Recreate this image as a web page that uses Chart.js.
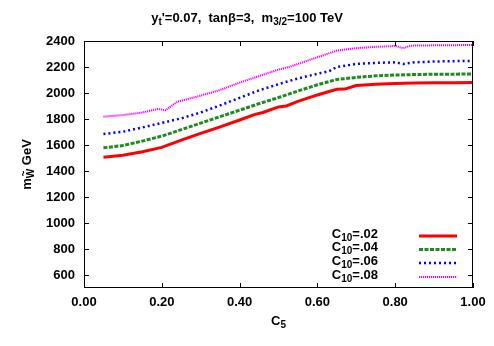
<!DOCTYPE html>
<html>
<head>
<meta charset="utf-8">
<script src="https://cdn.jsdelivr.net/npm/chart.js@4"></script>
<style>
  html, body { margin: 0; padding: 0; background: #fff; }
  #wrap { width: 494px; height: 346px; }
</style>
</head>
<body>
<div id="wrap"><canvas id="myChart" width="494" height="346"></canvas></div>
<script>
// C5 values and wino mass (GeV) for each C10
const c5_02 = [0.05, 0.10, 0.15, 0.20, 0.25, 0.30, 0.35, 0.40, 0.44, 0.46, 0.50, 0.52, 0.55, 0.60, 0.63, 0.65, 0.67, 0.70, 0.75, 0.80, 0.85, 0.90, 0.95, 1.00];
const m_02  = [1505, 1522, 1548, 1582, 1638, 1690, 1740, 1792, 1836, 1850, 1893, 1900, 1935, 1985, 2012, 2028, 2030, 2058, 2068, 2074, 2077, 2078, 2079, 2080];

const c5_04 = [0.05, 0.10, 0.15, 0.20, 0.25, 0.30, 0.35, 0.40, 0.45, 0.50, 0.55, 0.60, 0.65, 0.70, 0.75, 0.80, 0.85, 0.90, 0.95, 1.00];
const m_04  = [1578, 1596, 1630, 1668, 1718, 1768, 1818, 1868, 1918, 1965, 2015, 2063, 2104, 2120, 2132, 2138, 2142, 2144, 2145, 2146];

const c5_06 = [0.05, 0.10, 0.15, 0.20, 0.25, 0.30, 0.35, 0.40, 0.45, 0.50, 0.55, 0.60, 0.63, 0.65, 0.70, 0.75, 0.80, 0.82, 0.85, 0.90, 0.95, 1.00];
const m_06  = [1685, 1702, 1735, 1770, 1805, 1850, 1905, 1963, 2020, 2068, 2112, 2148, 2168, 2200, 2224, 2232, 2236, 2223, 2236, 2242, 2245, 2246];

const c5_08 = [0.05, 0.10, 0.15, 0.19, 0.21, 0.24, 0.30, 0.35, 0.40, 0.45, 0.50, 0.53, 0.60, 0.65, 0.70, 0.75, 0.80, 0.82, 0.84, 0.90, 0.95, 1.00];
const m_08  = [1818, 1830, 1850, 1877, 1868, 1933, 1980, 2023, 2080, 2130, 2180, 2203, 2275, 2326, 2345, 2355, 2362, 2344, 2364, 2367, 2368, 2369];

const seriesNames = ['.02', '.04', '.06', '.08'];
const xTicks = [0, 0.2, 0.4, 0.6, 0.8, 1.0];
const yTicks = [600, 800, 1000, 1200, 1400, 1600, 1800, 2000, 2200, 2400];

const colors = ['#ff0000', '#1f8a1f', '#0000ff', '#ff00ff'];
const widths = [3, 3, 2.5, 2];
const dashes = [[], [4, 1.5], [2, 3], [1.2, 0.8]];

function pts(xs, ys) { return xs.map((x, i) => ({ x: x, y: ys[i] })); }
const allX = [c5_02, c5_04, c5_06, c5_08];
const allY = [m_02, m_04, m_06, m_08];

const FONT = 'bold 13px "Liberation Sans", Arial, sans-serif';
const SUBFONT = 'bold 10px "Liberation Sans", Arial, sans-serif';

// draw text pieces, some sub/superscripted
function rich(ctx, parts, x, y, align) {
  let w = 0;
  parts.forEach(p => { ctx.font = p.s ? SUBFONT : FONT; w += ctx.measureText(p.t).width; });
  let cx = align === 'right' ? x - w : (align === 'center' ? x - w / 2 : x);
  ctx.textAlign = 'left';
  ctx.textBaseline = 'middle';
  parts.forEach(p => {
    ctx.font = p.s ? SUBFONT : FONT;
    const dy = p.s === 'sub' ? 4 : (p.s === 'sup' ? -5 : 0);
    ctx.fillText(p.t, cx, y + dy);
    if (p.tilde) {
      const tw = ctx.measureText(p.t).width;
      ctx.fillText('~', cx + tw / 2 - ctx.measureText('~').width / 2, y + dy - 7);
    }
    cx += ctx.measureText(p.t).width;
  });
}

const framePlugin = {
  id: 'frame',
  afterDatasetsDraw(chart) {
    const ctx = chart.ctx;
    const a = chart.chartArea;
    const xs = chart.scales.x, ys = chart.scales.y;
    ctx.save();
    ctx.strokeStyle = '#000';
    ctx.lineWidth = 1;
    ctx.strokeRect(a.left + 0.5, a.top + 0.5, a.right - a.left - 1, a.bottom - a.top - 1);
    ctx.beginPath();
    xTicks.forEach(v => {
      const px = Math.round(xs.getPixelForValue(v)) + 0.5;
      ctx.moveTo(px, a.bottom); ctx.lineTo(px, a.bottom - 5);
      ctx.moveTo(px, a.top); ctx.lineTo(px, a.top + 5);
    });
    yTicks.forEach(v => {
      const py = Math.round(ys.getPixelForValue(v)) + 0.5;
      ctx.moveTo(a.left, py); ctx.lineTo(a.left + 5, py);
      ctx.moveTo(a.right, py); ctx.lineTo(a.right - 5, py);
    });
    ctx.stroke();

    ctx.fillStyle = '#000';
    // title
    rich(ctx, [{ t: 'y' }, { t: 't', s: 'sub' }, { t: "'=0.07,  tan\u03b2=3,  m" }, { t: '3/2', s: 'sub' }, { t: '=100 TeV' }], 247, 18, 'center');
    // x title
    rich(ctx, [{ t: 'C' }, { t: '5', s: 'sub' }], (a.left + a.right) / 2, 321, 'center');
    // y title
    ctx.save();
    ctx.translate(27, (a.top + a.bottom) / 2);
    ctx.rotate(-Math.PI / 2);
    rich(ctx, [{ t: 'm' }, { t: 'W', s: 'sub', tilde: true }, { t: ' GeV' }], 0, 0, 'center');
    ctx.restore();

    // legend
    const rowY = [236, 249.5, 263, 277];
    seriesNames.forEach((n, i) => {
      ctx.fillStyle = '#000';
      rich(ctx, [{ t: 'C' }, { t: '10', s: 'sub' }, { t: '=' + n }], 378, rowY[i] - 2, 'right');
      ctx.strokeStyle = colors[i];
      ctx.lineWidth = widths[i];
      ctx.setLineDash(dashes[i]);
      ctx.beginPath();
      ctx.moveTo(419, rowY[i]);
      ctx.lineTo(457, rowY[i]);
      ctx.stroke();
      ctx.setLineDash([]);
    });
    ctx.restore();
  }
};

const config = {
  type: 'line',
  data: {
    datasets: seriesNames.map((n, i) => ({
      label: 'C10=' + n,
      data: pts(allX[i], allY[i]),
      borderColor: colors[i],
      borderWidth: widths[i],
      borderDash: dashes[i],
      pointRadius: 0,
      tension: 0,
      fill: false
    }))
  },
  options: {
    responsive: false,
    animation: false,
    layout: { padding: { left: 0, right: 21, top: 41, bottom: 0 } },
    scales: {
      x: {
        type: 'linear',
        min: 0, max: 1,
        grid: { display: false, drawTicks: false },
        border: { display: false },
        afterBuildTicks: s => { s.ticks = xTicks.map(v => ({ value: v })); },
        afterFit: s => { s.height = 58; },
        ticks: {
          color: '#000',
          padding: 7,
          font: { family: '"Liberation Sans", Arial, sans-serif', size: 13, weight: 'bold' },
          callback: v => v.toFixed(2)
        }
      },
      y: {
        min: 500, max: 2400,
        grid: { display: false, drawTicks: false },
        border: { display: false },
        afterBuildTicks: s => { s.ticks = yTicks.map(v => ({ value: v })); },
        afterFit: s => { s.width = 84; },
        ticks: {
          color: '#000',
          padding: 9,
          font: { family: '"Liberation Sans", Arial, sans-serif', size: 13, weight: 'bold' },
          callback: v => String(v)
        }
      }
    },
    plugins: {
      legend: { display: false },
      title: { display: false },
      tooltip: { enabled: false }
    }
  },
  plugins: [framePlugin]
};

window.onload = function() {
  const ctx = document.getElementById('myChart').getContext('2d');
  new Chart(ctx, config);
};
</script>
</body>
</html>
